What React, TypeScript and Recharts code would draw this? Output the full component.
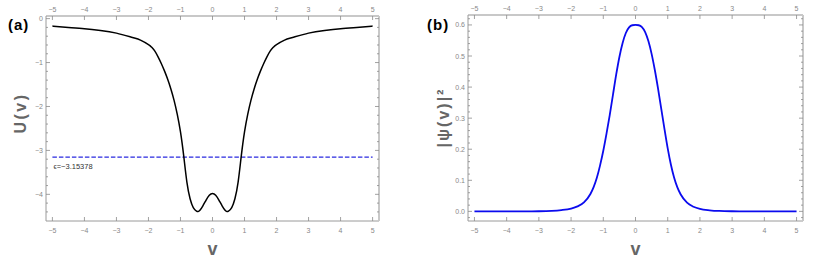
import { LineChart, Line, XAxis, YAxis, LabelList } from 'recharts';

// axis ticks
const vTicks = [-5, -4, -3, -2, -1, 0, 1, 2, 3, 4, 5];
const uMajor = [0, -1, -2, -3, -4];
const uMinor = [
  -0.2, -0.4, -0.6, -0.8, -1.2, -1.4, -1.6, -1.8, -2.2, -2.4, -2.6, -2.8,
  -3.2, -3.4, -3.6, -3.8, -4.2, -4.4,
];
const psiMajor = [0, 0.1, 0.2, 0.3, 0.4, 0.5, 0.6];
const psiMinor = [
  -0.02, 0.02, 0.04, 0.06, 0.08, 0.12, 0.14, 0.16, 0.18, 0.22, 0.24, 0.26, 0.28,
  0.32, 0.34, 0.36, 0.38, 0.42, 0.44, 0.46, 0.48, 0.52, 0.54, 0.56, 0.58, 0.62,
];

// (a) potential U(v)
const uX = [
  -5, -4.5, -4, -3.5, -3, -2.5, -2.25, -2, -1.9, -1.8, -1.7, -1.6, -1.5, -1.4, -1.3,
  -1.2, -1.1, -1, -0.9, -0.8, -0.7, -0.6, -0.5, -0.45, -0.4, -0.3, -0.2, -0.1, 0,
  0.1, 0.2, 0.3, 0.4, 0.45, 0.5, 0.6, 0.7, 0.8, 0.9, 1, 1.1, 1.2, 1.3, 1.4, 1.5,
  1.6, 1.7, 1.8, 1.9, 2, 2.25, 2.5, 3, 3.5, 4, 4.5, 5,
];
const uY = [
  -0.17, -0.2, -0.23, -0.27, -0.33, -0.43, -0.49, -0.59, -0.65, -0.74, -0.87, -1.02,
  -1.19, -1.38, -1.6, -1.86, -2.18, -2.58, -3.12, -3.72, -4.1, -4.3, -4.38, -4.39,
  -4.37, -4.26, -4.13, -4.02, -3.98, -4.02, -4.13, -4.26, -4.37, -4.39, -4.38, -4.3,
  -4.1, -3.72, -3.12, -2.58, -2.18, -1.86, -1.6, -1.38, -1.19, -1.02, -0.87, -0.74,
  -0.65, -0.59, -0.49, -0.43, -0.33, -0.27, -0.23, -0.2, -0.17,
];
const epsilon = -3.15378;
const epsX = [-5, 5];

// (b) |psi(v)|^2
const psiX = [
  -5, -4, -3.5, -3, -2.6, -2.3, -2, -1.8, -1.6, -1.4, -1.3, -1.2, -1.1, -1, -0.9,
  -0.8, -0.7, -0.6, -0.5, -0.4, -0.3, -0.2, -0.1, 0, 0.1, 0.2, 0.3, 0.4, 0.5, 0.6,
  0.7, 0.8, 0.9, 1, 1.1, 1.2, 1.3, 1.4, 1.6, 1.8, 2, 2.3, 2.6, 3, 3.5, 4, 5,
];
const psiY = [
  0, 0, 0.0001, 0.0004, 0.0015, 0.004, 0.009, 0.016, 0.029, 0.056, 0.078, 0.108,
  0.148, 0.195, 0.25, 0.31, 0.375, 0.44, 0.497, 0.542, 0.574, 0.592, 0.599, 0.6,
  0.599, 0.593, 0.577, 0.548, 0.507, 0.455, 0.395, 0.33, 0.265, 0.203, 0.15, 0.108,
  0.077, 0.055, 0.028, 0.015, 0.008, 0.0035, 0.0013, 0.0004, 0.0001, 0, 0,
];

const uData = uX.map((v, i) => ({ v, u: uY[i] }));
const epsData = epsX.map((v) => ({ v, e: epsilon }));
const psiData = psiX.map((v, i) => ({ v, p: psiY[i] }));

const FONT = '"Liberation Sans", Arial, sans-serif';
const TICK_GRAY = '#8a8a8a';
const DARK = '#9a9a9a';
const LIGHT = '#c8c8c8';

const fmt = (n: number, digits: number) =>
  (n < 0 ? '\u2212' : '') + Math.abs(n).toFixed(digits);

type Side = 'bottom' | 'top' | 'left' | 'right';

function makeTick(side: Side, majors: number[], digits: number, labels: boolean) {
  return (props: any) => {
    const { x, y, payload } = props;
    const val = payload.value as number;
    const major = majors.includes(val);
    const len = major ? 4 : 2;
    let line = null;
    let tx = x;
    let ty = y;
    let anchor: 'middle' | 'end' = 'middle';
    if (side === 'bottom') {
      line = <line x1={x} y1={y} x2={x} y2={y - len} />;
      ty = y + 11.5;
    } else if (side === 'top') {
      line = <line x1={x} y1={y} x2={x} y2={y + len} />;
      ty = y - 4;
    } else if (side === 'left') {
      line = <line x1={x} y1={y} x2={x + len} y2={y} />;
      tx = x - 3;
      ty = y + 2.5;
      anchor = 'end';
    } else {
      line = <line x1={x} y1={y} x2={x - len} y2={y} />;
    }
    return (
      <g stroke={TICK_GRAY} strokeWidth={0.8}>
        {line}
        {labels && major && (
          <text
            x={tx}
            y={ty}
            textAnchor={anchor}
            fontSize={7}
            fontFamily={FONT}
            fill="#888"
            stroke="none"
          >
            {fmt(val, digits)}
          </text>
        )}
      </g>
    );
  };
}

const EpsLabel = (props: any) => {
  const { x, y, index } = props;
  if (index !== 0) return null;
  return (
    <text x={x + 1} y={y + 12} fontSize={7.5} fontFamily={FONT} fill="#333">
      {'\u03f5=\u22123.15378'}
    </text>
  );
};

export default function App() {
  return (
    <div style={{ position: 'absolute', left: 0, top: 0, width: 817, height: 262 }}>
      <div style={{ position: 'absolute', left: 0, top: 0 }}>
        <LineChart
          width={400}
          height={262}
          data={uData}
          margin={{ top: 15, right: 20, bottom: 40, left: 0 }}
        >
          <XAxis
            dataKey="v"
            type="number"
            domain={[-5.2, 5.2]}
            ticks={vTicks}
            interval={0}
            height={1}
            tickSize={0}
            tickMargin={0}
            axisLine={{ stroke: DARK, strokeWidth: 1 }}
            tickLine={false}
            tick={makeTick('bottom', vTicks, 0, true)}
            allowDataOverflow
          />
          <XAxis
            xAxisId="top"
            dataKey="v"
            orientation="top"
            type="number"
            domain={[-5.2, 5.2]}
            ticks={vTicks}
            interval={0}
            height={1}
            tickSize={0}
            tickMargin={0}
            axisLine={{ stroke: LIGHT, strokeWidth: 2 }}
            tickLine={false}
            tick={makeTick('top', vTicks, 0, true)}
            allowDataOverflow
          />
          <YAxis
            type="number"
            domain={[-4.607, 0.06]}
            ticks={[...uMajor, ...uMinor]}
            interval={0}
            width={46}
            tickSize={0}
            tickMargin={0}
            axisLine={{ stroke: DARK, strokeWidth: 1 }}
            tickLine={false}
            tick={makeTick('left', uMajor, 0, true)}
            allowDataOverflow
          />
          <YAxis
            yAxisId="right"
            orientation="right"
            type="number"
            domain={[-4.607, 0.06]}
            ticks={[...uMajor, ...uMinor]}
            interval={0}
            width={1}
            tickSize={0}
            tickMargin={0}
            axisLine={{ stroke: LIGHT, strokeWidth: 2 }}
            tickLine={false}
            tick={makeTick('right', uMajor, 0, false)}
            allowDataOverflow
          />
          <Line
            data={epsData}
            dataKey="e"
            stroke="#2a2ae0"
            strokeWidth={1.2}
            strokeDasharray="4.5 2"
            dot={false}
            isAnimationActive={false}
          >
            <LabelList dataKey="e" content={<EpsLabel />} />
          </Line>
          <Line
            dataKey="u"
            type="natural"
            stroke="#000"
            strokeWidth={1.5}
            dot={false}
            isAnimationActive={false}
          />
        </LineChart>
      </div>

      <div style={{ position: 'absolute', left: 400, top: 0 }}>
        <LineChart
          width={417}
          height={262}
          data={psiData}
          margin={{ top: 14, right: 13, bottom: 40, left: 0 }}
        >
          <XAxis
            dataKey="v"
            type="number"
            domain={[-5.2, 5.2]}
            ticks={vTicks}
            interval={0}
            height={1}
            tickSize={0}
            tickMargin={0}
            axisLine={{ stroke: DARK, strokeWidth: 1 }}
            tickLine={false}
            tick={makeTick('bottom', vTicks, 0, true)}
            allowDataOverflow
          />
          <XAxis
            xAxisId="top"
            dataKey="v"
            orientation="top"
            type="number"
            domain={[-5.2, 5.2]}
            ticks={vTicks}
            interval={0}
            height={1}
            tickSize={0}
            tickMargin={0}
            axisLine={{ stroke: LIGHT, strokeWidth: 2 }}
            tickLine={false}
            tick={makeTick('top', vTicks, 0, true)}
            allowDataOverflow
          />
          <YAxis
            type="number"
            domain={[-0.031, 0.632]}
            ticks={[...psiMajor, ...psiMinor]}
            interval={0}
            width={68}
            tickSize={0}
            tickMargin={0}
            axisLine={{ stroke: DARK, strokeWidth: 1 }}
            tickLine={false}
            tick={makeTick('left', psiMajor, 1, true)}
            allowDataOverflow
          />
          <YAxis
            yAxisId="right"
            orientation="right"
            type="number"
            domain={[-0.031, 0.632]}
            ticks={[...psiMajor, ...psiMinor]}
            interval={0}
            width={1}
            tickSize={0}
            tickMargin={0}
            axisLine={{ stroke: LIGHT, strokeWidth: 2 }}
            tickLine={false}
            tick={makeTick('right', psiMajor, 1, false)}
            allowDataOverflow
          />
          <Line
            dataKey="p"
            type="monotone"
            stroke="#0b0bee"
            strokeWidth={1.8}
            dot={false}
            isAnimationActive={false}
          />
        </LineChart>
      </div>

      <svg
        width={817}
        height={262}
        style={{ position: 'absolute', left: 0, top: 0, pointerEvents: 'none' }}
        fontFamily={FONT}
        fontWeight="bold"
      >
        <text x={8} y={30} fontSize={15} letterSpacing={1} fill="#000">(a)</text>
        <text
          x={20}
          y={113}
          transform="rotate(-90 20 113)"
          textAnchor="middle"
          dominantBaseline="central"
          fontSize={16}
          letterSpacing={2.5}
          fill="#666"
        >
          U(v)
        </text>
        <text x={212.5} y={255} textAnchor="middle" fontSize={18} fill="#666">v</text>

        <text x={427} y={30} fontSize={15} letterSpacing={1} fill="#000">(b)</text>
        <text
          x={443}
          y={117.5}
          transform="rotate(-90 443 117.5)"
          textAnchor="middle"
          dominantBaseline="central"
          fontSize={16}
          letterSpacing={2}
          fill="#666"
        >
          {'|\u03c8(v)|\u00b2'}
        </text>
        <text x={635.5} y={255} textAnchor="middle" fontSize={18} fill="#666">v</text>
      </svg>
    </div>
  );
}
